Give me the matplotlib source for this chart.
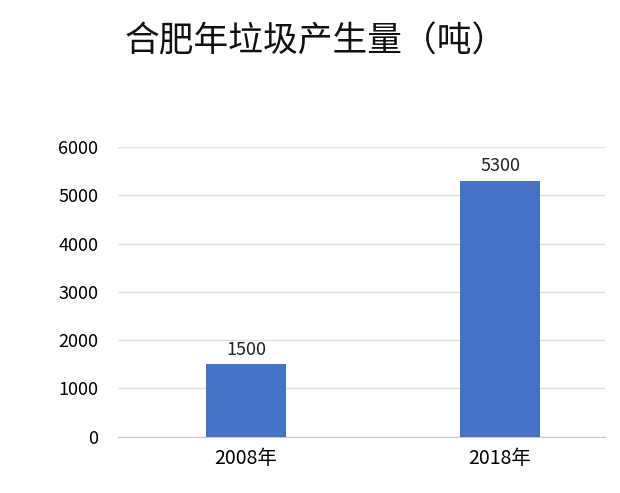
import matplotlib
matplotlib.use("Agg")
import matplotlib.pyplot as plt

plt.rcParams['font.family'] = ['Noto Sans CJK SC', 'DejaVu Sans']

categories = ["2008年", "2018年"]
values = [1500, 5300]
yticks = [0, 1000, 2000, 3000, 4000, 5000, 6000]

fig = plt.figure(figsize=(6.2, 4.93), dpi=100)
ax = fig.add_axes([0.19, 0.114, 0.786, 0.588])
x = range(len(categories))
bars = ax.bar(x, values, width=0.315, color="#4472C4", zorder=3)
for xi, v in zip(x, values):
    ax.text(xi, v + 120, str(v), ha="center", va="bottom", fontsize=13, color="#222222")
ax.set_xlim(-0.504, 1.413)
ax.set_ylim(0, 6000)
ax.set_yticks(yticks)
ax.set_xticks(list(x))
ax.set_xticklabels(categories, fontsize=14)
ax.tick_params(axis="y", labelsize=13, length=0, pad=14)
ax.tick_params(axis="x", length=0, pad=8)
ax.grid(axis="y", color="#e0e0e0", linewidth=1, zorder=0)
for s in ["top", "right", "left"]:
    ax.spines[s].set_visible(False)
ax.spines["bottom"].set_color("#c8c8c8")
fig.text(0.51, 0.915, "合肥年垃圾产生量（吨）", ha="center", va="center", fontsize=25, color="#111111")
fig.savefig("out.png", dpi=100)
